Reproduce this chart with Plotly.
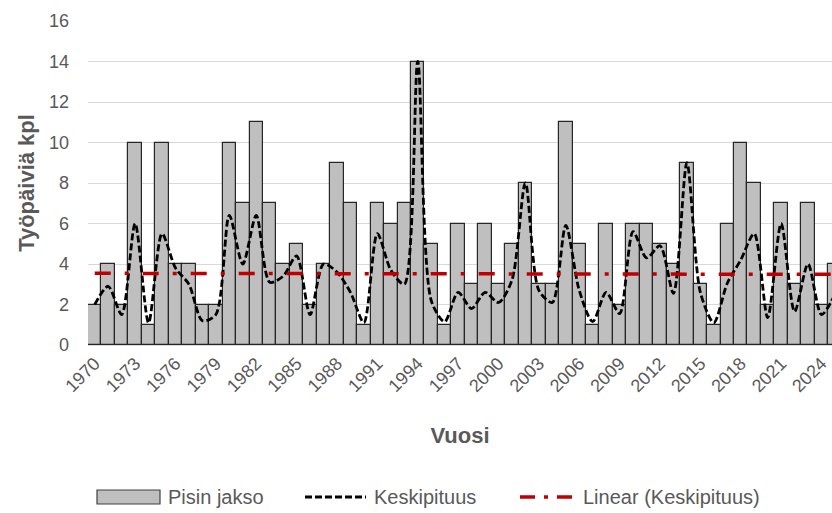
import plotly.graph_objects as go

years = list(range(1970, 2026))
pisin_jakso = [2, 4, 2, 10, 1, 10, 4, 4, 2, 2,
               10, 7, 11, 7, 4, 5, 2, 4, 9, 7,
               1, 7, 6, 7, 14, 5, 1, 6, 3, 6,
               3, 5, 8, 3, 3, 11, 5, 1, 6, 2,
               6, 6, 5, 4, 9, 3, 1, 6, 10, 8,
               2, 7, 3, 7, 2, 4]
keskipituus = [2.0, 2.9, 1.5, 6.0, 1.1, 5.5, 3.8, 3.0, 1.2, 1.5,
               6.4, 4.0, 6.4, 3.1, 3.4, 4.4, 1.5, 4.0, 3.6, 2.6,
               1.1, 5.5, 3.7, 3.0, 14.0, 2.2, 1.15, 2.6, 1.8, 2.6,
               2.1, 3.2, 8.0, 2.7, 2.1, 5.9, 2.7, 1.15, 2.6, 1.55,
               5.6, 4.3, 4.9, 2.55, 9.0, 2.6, 1.1, 3.05, 4.2, 5.5,
               1.35, 6.0, 1.65, 4.0, 1.5, 2.5]
trend_x = [1970, 2025]
trend_y = [3.54, 3.49]
tick_years = list(range(1970, 2025, 3))
legend_names = ["Pisin jakso", "Keskipituus", "Linear (Keskipituus)"]

FONT = "Liberation Sans, Arial, sans-serif"
GRAY = "#595959"
W, H = 832, 513
ML, MR, MT, MB = 88, 0, 21, 168

BAR_STYLE = dict(color="#BFBFBF", line=dict(color="#262626", width=1.2))
KESKI_LINE = dict(color="black", width=2.8, dash="7px,3px")
TREND_LINE = dict(color="#C00000", width=3.5, dash="16px,14px,4px,14px")

fig = go.Figure()
fig.add_bar(x=years, y=pisin_jakso, name=legend_names[0], width=1, marker=BAR_STYLE)
fig.add_scatter(x=years, y=keskipituus, mode="lines", name=legend_names[1],
                line=dict(**KESKI_LINE, shape="spline", smoothing=0.8))
fig.add_scatter(x=trend_x, y=trend_y, mode="lines", name=legend_names[2], line=TREND_LINE)

# manual legend (layout only), positioned in pixels then converted to paper coords
pw, ph = W - ML - MR, H - MT - MB
def px(x):
    return (x - ML) / pw
def py(y):
    return (H - MB - y) / ph

leg_y = 497
shapes = [
    dict(type="rect", xref="paper", yref="paper", x0=px(97), x1=px(160), y0=py(504), y1=py(490),
         fillcolor="#BFBFBF", line=dict(color="#404040", width=1.2)),
    dict(type="line", xref="paper", yref="paper", x0=px(305), x1=px(366), y0=py(leg_y), y1=py(leg_y),
         line=KESKI_LINE),
    dict(type="line", xref="paper", yref="paper", x0=px(520), x1=px(575), y0=py(leg_y), y1=py(leg_y),
         line=dict(color="#C00000", width=3.5, dash="15px,9px,4px,9px")),
]
annotations = [
    dict(xref="paper", yref="paper", x=px(xx), y=py(leg_y), text=t, showarrow=False,
         xanchor="left", yanchor="middle", font=dict(size=20, color=GRAY, family=FONT))
    for xx, t in zip([166, 372, 581], legend_names)
]

fig.update_layout(
    width=W, height=H,
    margin=dict(l=ML, r=MR, t=MT, b=MB),
    paper_bgcolor="white", plot_bgcolor="white",
    font=dict(family=FONT, color=GRAY, size=18),
    bargap=0,
    showlegend=False,
    shapes=shapes,
    annotations=annotations,
    xaxis=dict(range=[1969.5, 2024.78], tickmode="array", tickvals=tick_years,
               tickangle=-45, tickfont=dict(size=18, color=GRAY),
               showgrid=False, zeroline=False, showline=True, linecolor="#D9D9D9",
               linewidth=1, ticks="",
               title=dict(text="Vuosi", font=dict(size=22, color=GRAY, weight="bold"), standoff=32)),
    yaxis=dict(range=[0, 16], dtick=2, tickfont=dict(size=18, color=GRAY),
               showgrid=True, gridcolor="#D9D9D9", gridwidth=1, zeroline=False,
               ticks="", ticklabelstandoff=18,
               title=dict(text="Työpäiviä kpl", font=dict(size=22, color=GRAY, weight="bold"), standoff=8)),
)

fig.write_html("out.html")
